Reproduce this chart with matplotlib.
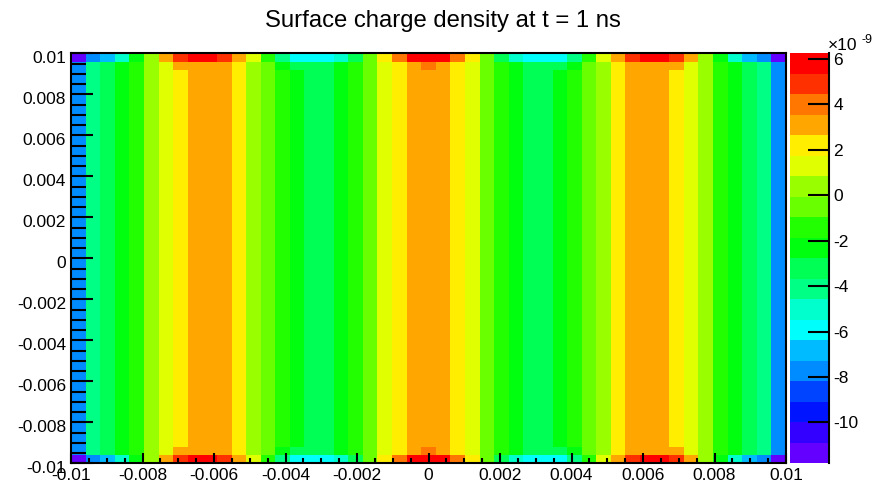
import colorsys
import numpy as np
import matplotlib
matplotlib.use('Agg')
import matplotlib.pyplot as plt
import matplotlib.transforms as mtransforms
from matplotlib.colors import ListedColormap, BoundaryNorm
from matplotlib.ticker import MultipleLocator, FuncFormatter

# surface charge density, units of 1e-9, one value per x bin (49 bins)
edge_row = [-11.80, -7.74, -6.84, -5.03, -2.32, 0.38, 3.09, 4.90, 5.80, 5.80,
            4.90, 3.09, 1.29, -1.42, -4.13, -5.93, -5.93, -5.93, -5.03, -3.23,
            -0.52, 2.19, 4.00, 5.80, 6.25, 5.80, 4.00, 2.19, -0.52, -3.23,
            -5.03, -5.93, -5.93, -5.93, -4.13, -1.42, 1.29, 3.09, 4.90, 5.80,
            5.80, 4.90, 3.09, 0.38, -2.32, -5.03, -6.84, -7.74, -11.80]
near_edge_row = [-7.74, -4.13, -3.23, -2.32, -1.42, 0.38, 1.29, 3.09, 3.09, 3.09,
                 3.09, 2.19, 0.38, -0.52, -2.32, -3.23, -3.23, -3.23, -2.32, -1.42,
                 -0.52, 1.29, 2.19, 3.09, 4.00, 3.09, 2.19, 1.29, -0.52, -1.42,
                 -2.32, -3.23, -3.23, -3.23, -2.32, -0.52, 0.38, 2.19, 3.09, 3.09,
                 3.09, 3.09, 1.29, 0.38, -1.42, -2.32, -3.23, -4.13, -7.74]
interior_row = [-7.74, -4.13, -3.23, -2.32, -1.42, 0.38, 1.29, 2.19, 3.09, 3.09,
                3.09, 2.19, 0.38, -0.52, -1.42, -2.32, -3.23, -3.23, -2.32, -1.42,
                -0.52, 1.29, 2.19, 3.09, 3.09, 3.09, 2.19, 1.29, -0.52, -1.42,
                -2.32, -3.23, -3.23, -2.32, -1.42, -0.52, 0.38, 2.19, 3.09, 3.09,
                3.09, 2.19, 1.29, 0.38, -1.42, -2.32, -3.23, -4.13, -7.74]
n_interior = 45
x_range = (-0.01, 0.01)
y_range = (-0.01, 0.01)
title = 'Surface charge density at t = 1 ns'
cbar_ticks = [-10, -8, -6, -4, -2, 0, 2, 4, 6]

plt.rcParams['font.family'] = ['Liberation Sans', 'DejaVu Sans']
plt.rcParams['axes.unicode_minus'] = False

z = np.vstack([edge_row, near_edge_row] + [interior_row] * n_interior
              + [near_edge_row, edge_row])
ny, nx = z.shape
xe = np.linspace(x_range[0], x_range[1], nx + 1)
ye = np.linspace(y_range[0], y_range[1], ny + 1)

# ROOT "pretty" palette, 20 contour levels
pal = []
for i in range(50):
    hue = 280 - (i + 1) * 280 / 50
    pal.append(colorsys.hls_to_rgb(hue / 360.0, 0.5, 1.0))
ndiv = 20
colors = [pal[int((k + 0.99) * 50 / ndiv)] for k in range(ndiv)]
cmap = ListedColormap(colors)
levels = np.linspace(z.min(), z.max(), ndiv + 1)
norm = BoundaryNorm(levels, ndiv)

W, H = 886, 488
fig = plt.figure(figsize=(W / 100, H / 100), dpi=100)
left, right, top, bottom = 71, 786, 53.3, 463.3
ax = fig.add_axes([left / W, 1 - bottom / H, (right - left) / W, (bottom - top) / H])
mesh = ax.pcolormesh(xe, ye, z, cmap=cmap, norm=norm)
ax.set_xlim(*x_range)
ax.set_ylim(*y_range)

fmt = FuncFormatter(lambda v, p: '%g' % (round(v, 6) + 0.0))
ax.xaxis.set_major_locator(MultipleLocator(0.002))
ax.xaxis.set_minor_locator(MultipleLocator(0.0005))
ax.yaxis.set_major_locator(MultipleLocator(0.002))
ax.yaxis.set_minor_locator(MultipleLocator(0.0005))
ax.xaxis.set_major_formatter(fmt)
ax.yaxis.set_major_formatter(fmt)
ax.tick_params(which='both', direction='in', top=False, right=False,
               width=1.5, color='black', labelsize=12.5, pad=3.5)
ax.tick_params(axis='x', which='major', length=7.5)
ax.tick_params(axis='x', which='minor', length=3.6)
ax.tick_params(axis='y', which='major', length=15.5)
ax.tick_params(axis='y', which='minor', length=10.8)
for s in ax.spines.values():
    s.set_linewidth(1.5)
    s.set_color('black')

# ROOT puts the y labels a little below their ticks
shift = mtransforms.ScaledTranslation(0, -3.5 / 100, fig.dpi_scale_trans)
for t in ax.yaxis.get_major_ticks():
    t.label1.set_transform(t.label1.get_transform() + shift)

cax = fig.add_axes([790 / W, 1 - bottom / H, 39.3 / W, (bottom - top) / H])
cb = fig.colorbar(mesh, cax=cax, ticks=cbar_ticks)
cb.outline.set_visible(False)
cax.spines['right'].set_visible(True)
cax.spines['right'].set_linewidth(1.5)
cax.minorticks_off()
cax.tick_params(direction='in', length=15, width=1.5, labelsize=12.5, pad=3)
cb.ax.yaxis.set_major_formatter(FuncFormatter(lambda v, p: '%g' % v))

fig.text(0.5, 1 - 20.5 / H, title, ha='center', va='center', fontsize=17.2)
fig.text(828 / W, 1 - 46 / H, '\u00d710', ha='left', va='center', fontsize=12.5)
fig.text(861 / W, 1 - 40 / H, '-9', ha='left', va='center', fontsize=9)

fig.savefig('out.png', dpi=100)
